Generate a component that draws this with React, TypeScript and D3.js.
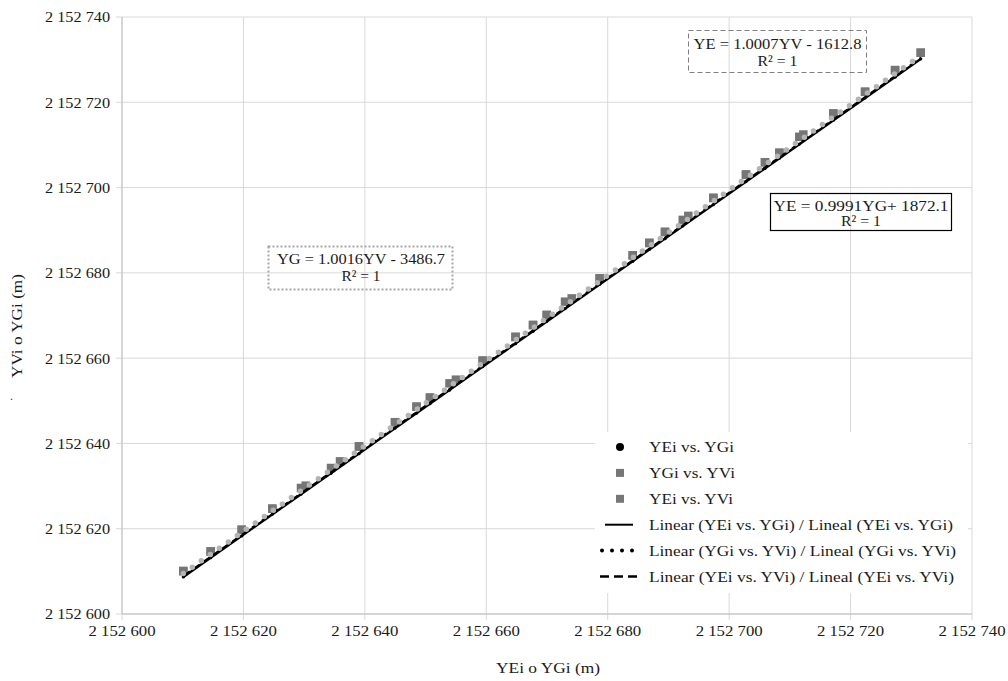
import React from "react";
import * as d3 from "d3";

// ---- data ----
const axisTicks = [2152600, 2152620, 2152640, 2152660, 2152680, 2152700, 2152720, 2152740];

// YGi vs. YVi (x = YGi, y = YVi)
const s2X = [2152610.10, 2152614.61, 2152619.72, 2152624.76, 2152629.48, 2152634.43, 2152639.04, 2152644.97, 2152648.51, 2152650.73, 2152653.94, 2152659.41, 2152664.82, 2152667.70, 2152669.96, 2152672.97, 2152678.68, 2152684.12, 2152686.85, 2152689.44, 2152692.36, 2152697.40, 2152702.78, 2152705.91, 2152708.27, 2152711.56, 2152717.16, 2152722.39, 2152727.33, 2152731.56];
const s2Y = [2152610.07, 2152614.66, 2152619.75, 2152624.69, 2152629.55, 2152634.24, 2152639.30, 2152644.97, 2152648.61, 2152650.73, 2152654.09, 2152659.41, 2152664.98, 2152667.77, 2152670.12, 2152673.24, 2152678.71, 2152684.11, 2152687.02, 2152689.60, 2152692.42, 2152697.58, 2152703.05, 2152705.94, 2152708.15, 2152711.90, 2152717.37, 2152722.46, 2152727.54, 2152731.62];

// YEi vs. YVi (x = YEi, y = YVi)
const s3X = [2152610.10, 2152614.61, 2152619.72, 2152624.76, 2152630.26, 2152635.91, 2152639.04, 2152644.97, 2152648.51, 2152650.73, 2152655.00, 2152659.41, 2152664.82, 2152667.70, 2152669.96, 2152674.07, 2152678.68, 2152684.12, 2152686.85, 2152689.44, 2152693.28, 2152697.40, 2152702.78, 2152705.91, 2152708.27, 2152712.22, 2152717.16, 2152722.39, 2152727.33, 2152731.56];
const s3Y = [2152610.07, 2152614.66, 2152619.75, 2152624.69, 2152630.09, 2152635.79, 2152639.30, 2152644.97, 2152648.61, 2152650.73, 2152654.95, 2152659.41, 2152664.98, 2152667.77, 2152670.12, 2152674.01, 2152678.71, 2152684.11, 2152687.02, 2152689.60, 2152693.36, 2152697.58, 2152703.05, 2152705.94, 2152708.15, 2152712.44, 2152717.37, 2152722.46, 2152727.54, 2152731.62];

// YEi vs. YGi (x = YEi, y = YGi)
const s1X = s2X;
const s1Y = [2152608.7, 2152613.2, 2152618.3, 2152623.4, 2152628.1, 2152633.0, 2152637.6, 2152643.6, 2152647.1, 2152649.3, 2152652.5, 2152658.0, 2152663.4, 2152666.3, 2152668.6, 2152671.6, 2152677.3, 2152682.7, 2152685.5, 2152688.0, 2152691.0, 2152696.0, 2152701.4, 2152704.5, 2152706.9, 2152710.2, 2152715.8, 2152721.0, 2152725.9, 2152730.2];

// trend line end points
const trendX = [2152610.1, 2152731.6];
const trendSolidY = [2152608.7, 2152730.2];
const trendDottedY = [2152609.5, 2152731.0];
const trendDashedY = [2152608.9, 2152730.4];

const legendLabels = [
  "YEi vs. YGi",
  "YGi vs. YVi",
  "YEi vs. YVi",
  "Linear (YEi vs. YGi) / Lineal (YEi vs. YGi)",
  "Linear (YGi vs. YVi) / Lineal (YGi vs. YVi)",
  "Linear (YEi vs. YVi) / Lineal (YEi vs. YVi)",
];
const legendWidths = [85, 86, 84, 304, 307, 305];

const FONT = "'Liberation Serif', 'Times New Roman', serif";
const FS = 15.5;
const fmt = (v: number) => d3.format(",")(v).replace(/,/g, " ");

export default function App() {
  const W = 1008, H = 681;
  const x = d3.scaleLinear().domain([2152600, 2152740]).range([122, 972]);
  const y = d3.scaleLinear().domain([2152600, 2152740]).range([614, 17]);
  const line = (ys: number[]) =>
    d3.line<number>().x((_, i) => x(trendX[i])).y((d) => y(d))(ys) || "";

  const sq = 8.5;
  const lgX = 620, lgTX = 649, lgY0 = 447, lgStep = 25.9;
  const T = (props: any) => (
    <text fontSize={FS} fill="#1a1a1a" lengthAdjust="spacingAndGlyphs" {...props} />
  );

  return (
    <svg width={W} height={H} style={{ position: "absolute", left: 0, top: 0, display: "block", background: "#fff" }} fontFamily={FONT}>
      {/* grid */}
      {axisTicks.map((t) => (
        <line key={"gx" + t} x1={x(t)} x2={x(t)} y1={y(2152740)} y2={y(2152600) + 6} stroke="#d9d9d9" strokeWidth={1} />
      ))}
      {axisTicks.map((t) => (
        <line key={"gy" + t} x1={x(2152600) - 6} x2={x(2152740)} y1={y(t)} y2={y(t)} stroke="#d9d9d9" strokeWidth={1} />
      ))}
      {/* axes */}
      <line x1={x(2152600)} x2={x(2152600)} y1={y(2152740)} y2={y(2152600)} stroke="#bfbfbf" />
      <line x1={x(2152600)} x2={x(2152740)} y1={y(2152600)} y2={y(2152600)} stroke="#bfbfbf" />
      {/* tick labels */}
      {axisTicks.map((t) => (
        <T key={"ly" + t} x={110} y={y(t)} dy="0.35em" textAnchor="end" textLength={65}>{fmt(t)}</T>
      ))}
      {axisTicks.map((t) => (
        <T key={"lx" + t} x={x(t)} y={636} textAnchor="middle" textLength={67}>{fmt(t)}</T>
      ))}
      {/* axis titles */}
      <T x={548} y={673} textAnchor="middle" textLength={104}>YEi o YGi (m)</T>
      <T transform="translate(22,326) rotate(-90)" textAnchor="middle" textLength={104}>YVi o YGi (m)</T>
      <text x={10} y={400} fontSize={12} fill="#444">.</text>

      {/* series markers */}
      {s1X.map((v, i) => (
        <circle key={"c" + i} cx={x(v)} cy={y(s1Y[i])} r={1.6} fill="#000" />
      ))}
      {s2X.map((v, i) => (
        <rect key={"a" + i} x={x(v) - sq / 2} y={y(s2Y[i]) - sq / 2} width={sq} height={sq} fill="#747474" />
      ))}
      {s3X.map((v, i) => (
        <rect key={"b" + i} x={x(v) - sq / 2} y={y(s3Y[i]) - sq / 2} width={sq} height={sq} fill="#767676" />
      ))}

      {/* trend lines */}
      <path d={line(trendSolidY)} stroke="#000" strokeWidth={2.4} fill="none" />
      <path d={line(trendDashedY)} stroke="#000" strokeWidth={2.2} fill="none" strokeDasharray="8 4" />
      <path d={line(trendDottedY)} stroke="#b4b4b4" strokeWidth={5.5} fill="none" strokeDasharray="0 11" strokeLinecap="round" />

      {/* equation boxes */}
      <rect x={688.5} y={30.5} width={178} height={42} fill="none" stroke="#7f7f7f" strokeDasharray="5 3" />
      <T x={777.5} y={49} textAnchor="middle" textLength={168}>YE = 1.0007YV  - 1612.8</T>
      <T x={777.5} y={66} textAnchor="middle" textLength={40}>R² = 1</T>

      <rect x={268.5} y={246.5} width={184} height={43} fill="none" stroke="#a6a6a6" strokeWidth={2} strokeDasharray="2 2" />
      <T x={361} y={264} textAnchor="middle" textLength={168}>YG = 1.0016YV  - 3486.7</T>
      <T x={361} y={281} textAnchor="middle" textLength={39}>R² = 1</T>

      <rect x={770.5} y={193.5} width={181} height={37} fill="none" stroke="#000" strokeWidth={1.2} />
      <T x={861} y={211} textAnchor="middle" textLength={175}>YE = 0.9991YG+  1872.1</T>
      <T x={861} y={226} textAnchor="middle" textLength={40}>R² = 1</T>

      {/* legend */}
      <rect x={595} y={432} width={373} height={161} fill="#fff" />
      {legendLabels.map((lab, i) => {
        const cy = lgY0 + i * lgStep;
        let sym: React.ReactNode = null;
        if (i === 0) sym = <circle cx={lgX} cy={cy} r={4} fill="#000" />;
        else if (i === 1 || i === 2) sym = <rect x={lgX - 4} y={cy - 4} width={8} height={8} fill="#777" />;
        else if (i === 3) sym = <line x1={605} x2={633} y1={cy} y2={cy} stroke="#000" strokeWidth={2} />;
        else if (i === 4) sym = <line x1={602} x2={638} y1={cy} y2={cy} stroke="#000" strokeWidth={4} strokeDasharray="0 10" strokeLinecap="round" />;
        else sym = <line x1={600} x2={639} y1={cy} y2={cy} stroke="#000" strokeWidth={2.5} strokeDasharray="9 5" />;
        return (
          <g key={"lg" + i}>
            {sym}
            <T x={lgTX} y={cy} dy="0.35em" textLength={legendWidths[i]}>{lab}</T>
          </g>
        );
      })}
    </svg>
  );
}
